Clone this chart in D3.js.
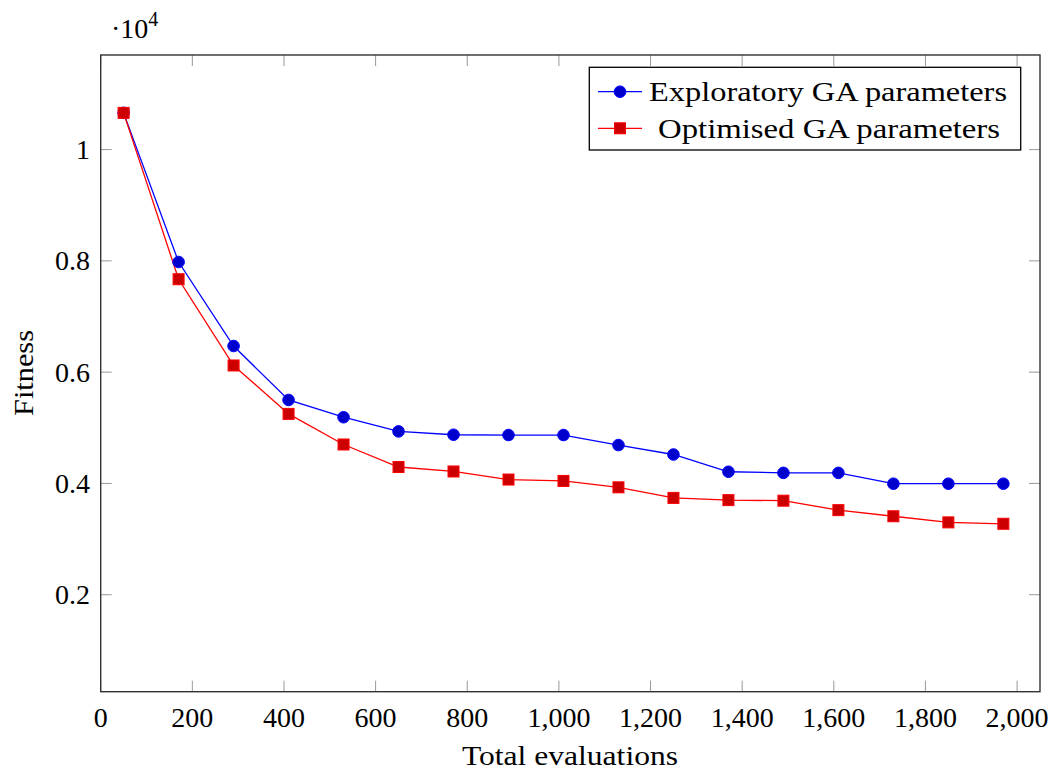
<!DOCTYPE html>
<html>
<head>
<meta charset="utf-8">
<script src="https://cdn.jsdelivr.net/npm/d3@7"></script>
<style>
  html, body { margin: 0; padding: 0; background: #fff; }
  svg { display: block; }
  text { font-family: "Liberation Serif", "DejaVu Serif", serif; fill: #000; }
</style>
</head>
<body>
<svg id="chart" width="1051" height="771"></svg>
<script>
// Data (fitness values; axis shows them scaled by 10^4)
const evaluations = [50, 170, 290, 410, 530, 650, 770, 890, 1010, 1130, 1250, 1370, 1490, 1610, 1730, 1850, 1970];
const exploratory = [10660, 7980, 6470, 5500, 5190, 4935, 4875, 4870, 4870, 4690, 4520, 4210, 4190, 4190, 3995, 3995, 3995];
const optimised   = [10660, 7670, 6120, 5250, 4700, 4295, 4215, 4070, 4045, 3930, 3740, 3700, 3690, 3520, 3410, 3300, 3275];
const seriesNames = ["Exploratory GA parameters", "Optimised GA parameters"];
const xTicks = [0, 200, 400, 600, 800, 1000, 1200, 1400, 1600, 1800, 2000];
const yTicks = [2000, 4000, 6000, 8000, 10000];
const xLabel = "Total evaluations";
const yLabel = "Fitness";

const svg = d3.select("#chart");
const L = 100.7, R = 1040, T = 55, B = 691.7;

const x = d3.scaleLinear().domain([0, 2050]).range([L, R]);
const y = d3.scaleLinear().domain([257, 11700]).range([B, T]);

const tickLen = 11;
const fmtX = d3.format(",");
const fmtY = v => String(+(v / 10000).toFixed(1));
const FS = 28;

// ticks (inner, mirrored)
const tg = svg.append("g").attr("stroke", "#999").attr("stroke-width", 1);
xTicks.forEach(v => {
  tg.append("line").attr("x1", x(v)).attr("x2", x(v)).attr("y1", B).attr("y2", B - tickLen);
  tg.append("line").attr("x1", x(v)).attr("x2", x(v)).attr("y1", T).attr("y2", T + tickLen);
});
yTicks.forEach(v => {
  tg.append("line").attr("y1", y(v)).attr("y2", y(v)).attr("x1", L).attr("x2", L + tickLen);
  tg.append("line").attr("y1", y(v)).attr("y2", y(v)).attr("x1", R).attr("x2", R - tickLen);
});

// frame
svg.append("rect").attr("x", L).attr("y", T).attr("width", R - L).attr("height", B - T)
  .attr("fill", "none").attr("stroke", "#333").attr("stroke-width", 1.4);

// tick labels
svg.append("g").selectAll("text").data(xTicks).join("text")
  .attr("x", d => x(d)).attr("y", 727).attr("text-anchor", "middle")
  .attr("font-size", FS).text(d => fmtX(d));
svg.append("g").selectAll("text").data(yTicks).join("text")
  .attr("x", 90).attr("y", d => y(d) + 9.5).attr("text-anchor", "end")
  .attr("font-size", FS).text(d => fmtY(d));

// scale label
const sc = svg.append("text").attr("x", 111).attr("y", 38).attr("font-size", FS);
sc.append("tspan").text("·10");
sc.append("tspan").attr("font-size", 20).attr("dy", -12).text("4");

// axis labels
svg.append("text").attr("x", 570).attr("y", 765).attr("text-anchor", "middle")
  .attr("font-size", FS).attr("textLength", 216).attr("lengthAdjust", "spacingAndGlyphs").text(xLabel);
svg.append("text").attr("transform", "translate(33,373) rotate(-90)").attr("text-anchor", "middle")
  .attr("font-size", FS).attr("textLength", 86).attr("lengthAdjust", "spacingAndGlyphs").text(yLabel);

const line = d3.line().x(d => x(d[0])).y(d => y(d[1]));
const dataE = evaluations.map((e, i) => [e, exploratory[i]]);
const dataO = evaluations.map((e, i) => [e, optimised[i]]);

const plot = svg.append("g");
plot.append("path").datum(dataE).attr("d", line).attr("fill", "none").attr("stroke", "#0000ff").attr("stroke-width", 1.3);
plot.append("path").datum(dataO).attr("d", line).attr("fill", "none").attr("stroke", "#ff0000").attr("stroke-width", 1.3);

plot.append("g").selectAll("circle").data(dataE).join("circle")
  .attr("cx", d => x(d[0])).attr("cy", d => y(d[1])).attr("r", 5.8)
  .attr("fill", "#0000cc").attr("stroke", "#0000ff").attr("stroke-width", 1);
const s = 11;
plot.append("g").selectAll("rect").data(dataO).join("rect")
  .attr("x", d => x(d[0]) - s / 2).attr("y", d => y(d[1]) - s / 2).attr("width", s).attr("height", s)
  .attr("fill", "#cc0000").attr("stroke", "#ff0000").attr("stroke-width", 1);

// legend
const lg = svg.append("g");
lg.append("rect").attr("x", 589.3).attr("y", 67.3).attr("width", 431.4).attr("height", 82.7)
  .attr("fill", "#fff").attr("stroke", "#000").attr("stroke-width", 1.3);
const rows = [91.7, 128.3];
const textSpans = [[649, 1007], [658, 1000]];
[0, 1].forEach(i => {
  const yy = rows[i];
  lg.append("line").attr("x1", 598).attr("x2", 642).attr("y1", yy).attr("y2", yy)
    .attr("stroke", i === 0 ? "#0000ff" : "#ff0000").attr("stroke-width", 1.3);
  if (i === 0) {
    lg.append("circle").attr("cx", 620).attr("cy", yy).attr("r", 5.8)
      .attr("fill", "#0000cc").attr("stroke", "#0000ff").attr("stroke-width", 1);
  } else {
    lg.append("rect").attr("x", 620 - s / 2).attr("y", yy - s / 2).attr("width", s).attr("height", s)
      .attr("fill", "#cc0000").attr("stroke", "#ff0000").attr("stroke-width", 1);
  }
  const [a, b] = textSpans[i];
  lg.append("text").attr("x", a).attr("y", yy + 9.5)
    .attr("font-size", FS).attr("textLength", b - a).attr("lengthAdjust", "spacingAndGlyphs")
    .text(seriesNames[i]);
});
</script>
</body>
</html>
